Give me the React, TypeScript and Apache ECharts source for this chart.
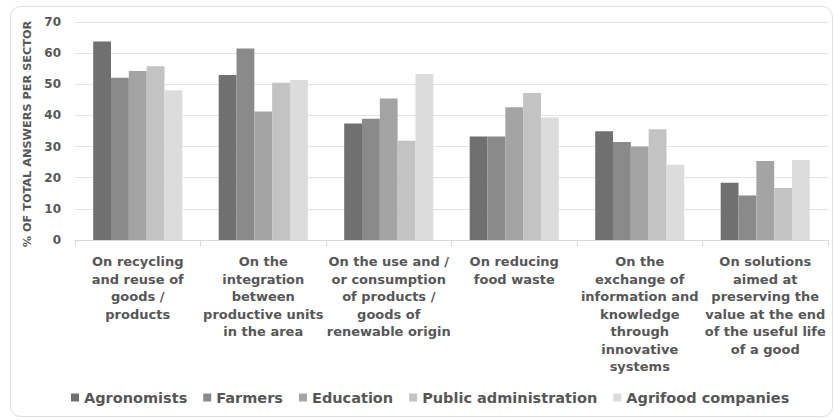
import React, { useEffect, useRef } from "react";
import * as echarts from "echarts";

const categories = [
  "On recycling\nand reuse of\ngoods /\nproducts",
  "On the\nintegration\nbetween\nproductive units\nin the area",
  "On the use and /\nor consumption\nof products /\ngoods of\nrenewable origin",
  "On reducing\nfood waste",
  "On the\nexchange of\ninformation and\nknowledge\nthrough\ninnovative\nsystems",
  "On solutions\naimed at\npreserving the\nvalue at the end\nof the useful life\nof a good",
];

const seriesNames = [
  "Agronomists",
  "Farmers",
  "Education",
  "Public administration",
  "Agrifood companies",
];

const agronomists = [63.7, 53.0, 37.4, 33.2, 34.9, 18.4];
const farmers = [52.1, 61.5, 38.9, 33.2, 31.5, 14.3];
const education = [54.3, 41.3, 45.4, 42.6, 30.0, 25.4];
const publicAdministration = [55.8, 50.5, 31.9, 47.2, 35.6, 16.7];
const agrifoodCompanies = [48.1, 51.4, 53.3, 39.3, 24.2, 25.7];

const seriesValues = [
  agronomists,
  farmers,
  education,
  publicAdministration,
  agrifoodCompanies,
];

const colors = ["#707070", "#8a8a8a", "#a4a4a4", "#c3c3c3", "#dcdcdc"];

const textColor = "#575757";
const fontFamily = "'DejaVu Sans', sans-serif";

export default function App() {
  const ref = useRef<HTMLDivElement>(null);

  useEffect(() => {
    if (!ref.current) return;
    const chart = echarts.init(ref.current, undefined, { renderer: "svg" });
    chart.setOption({
      animation: false,
      backgroundColor: "#ffffff",
      textStyle: { fontFamily },
      graphic: [
        {
          type: "rect",
          shape: { x: 10.5, y: 6.5, width: 822, height: 410, r: 10 },
          style: { fill: "none", stroke: "#dedede", lineWidth: 1 },
          silent: true,
          z: -1,
        },
      ],
      grid: { left: 75, right: 7, top: 22, bottom: 180 },
      legend: {
        left: 66,
        top: 385,
        icon: "rect",
        itemWidth: 8,
        itemHeight: 8,
        itemGap: 16,
        textStyle: {
          color: textColor,
          fontSize: 14.5,
          fontWeight: "bold",
          fontFamily,
        },
        data: seriesNames,
      },
      xAxis: {
        type: "category",
        data: categories,
        axisLine: { lineStyle: { color: "#d9d9d9", width: 1 } },
        axisTick: {
          show: true,
          length: 6,
          lineStyle: { color: "#d9d9d9" },
        },
        axisLabel: {
          interval: 0,
          color: textColor,
          fontSize: 13,
          fontWeight: "bold",
          lineHeight: 17.5,
          margin: 13,
          fontFamily,
        },
      },
      yAxis: {
        type: "value",
        min: 0,
        max: 70,
        interval: 10,
        name: "% OF TOTAL ANSWERS PER SECTOR",
        nameLocation: "middle",
        nameGap: 42,
        nameRotate: 90,
        nameTextStyle: {
          color: textColor,
          fontSize: 11.3,
          fontWeight: "bold",
          fontFamily,
          padding: [0, 6, 0, 0],
        },
        axisLine: { show: false },
        axisTick: { show: false },
        splitLine: { lineStyle: { color: "#e4e4e4", width: 1 } },
        axisLabel: {
          color: textColor,
          fontSize: 12,
          fontWeight: "bold",
          margin: 14,
          fontFamily,
        },
      },
      series: seriesNames.map((name, i) => ({
        name,
        type: "bar",
        data: seriesValues[i],
        barGap: "0%",
        barCategoryGap: "29%",
        itemStyle: { color: colors[i] },
      })),
    });
    return () => chart.dispose();
  }, []);

  return (
    <div
      ref={ref}
      style={{ position: "fixed", left: 0, top: 0, width: 835, height: 420 }}
    />
  );
}
